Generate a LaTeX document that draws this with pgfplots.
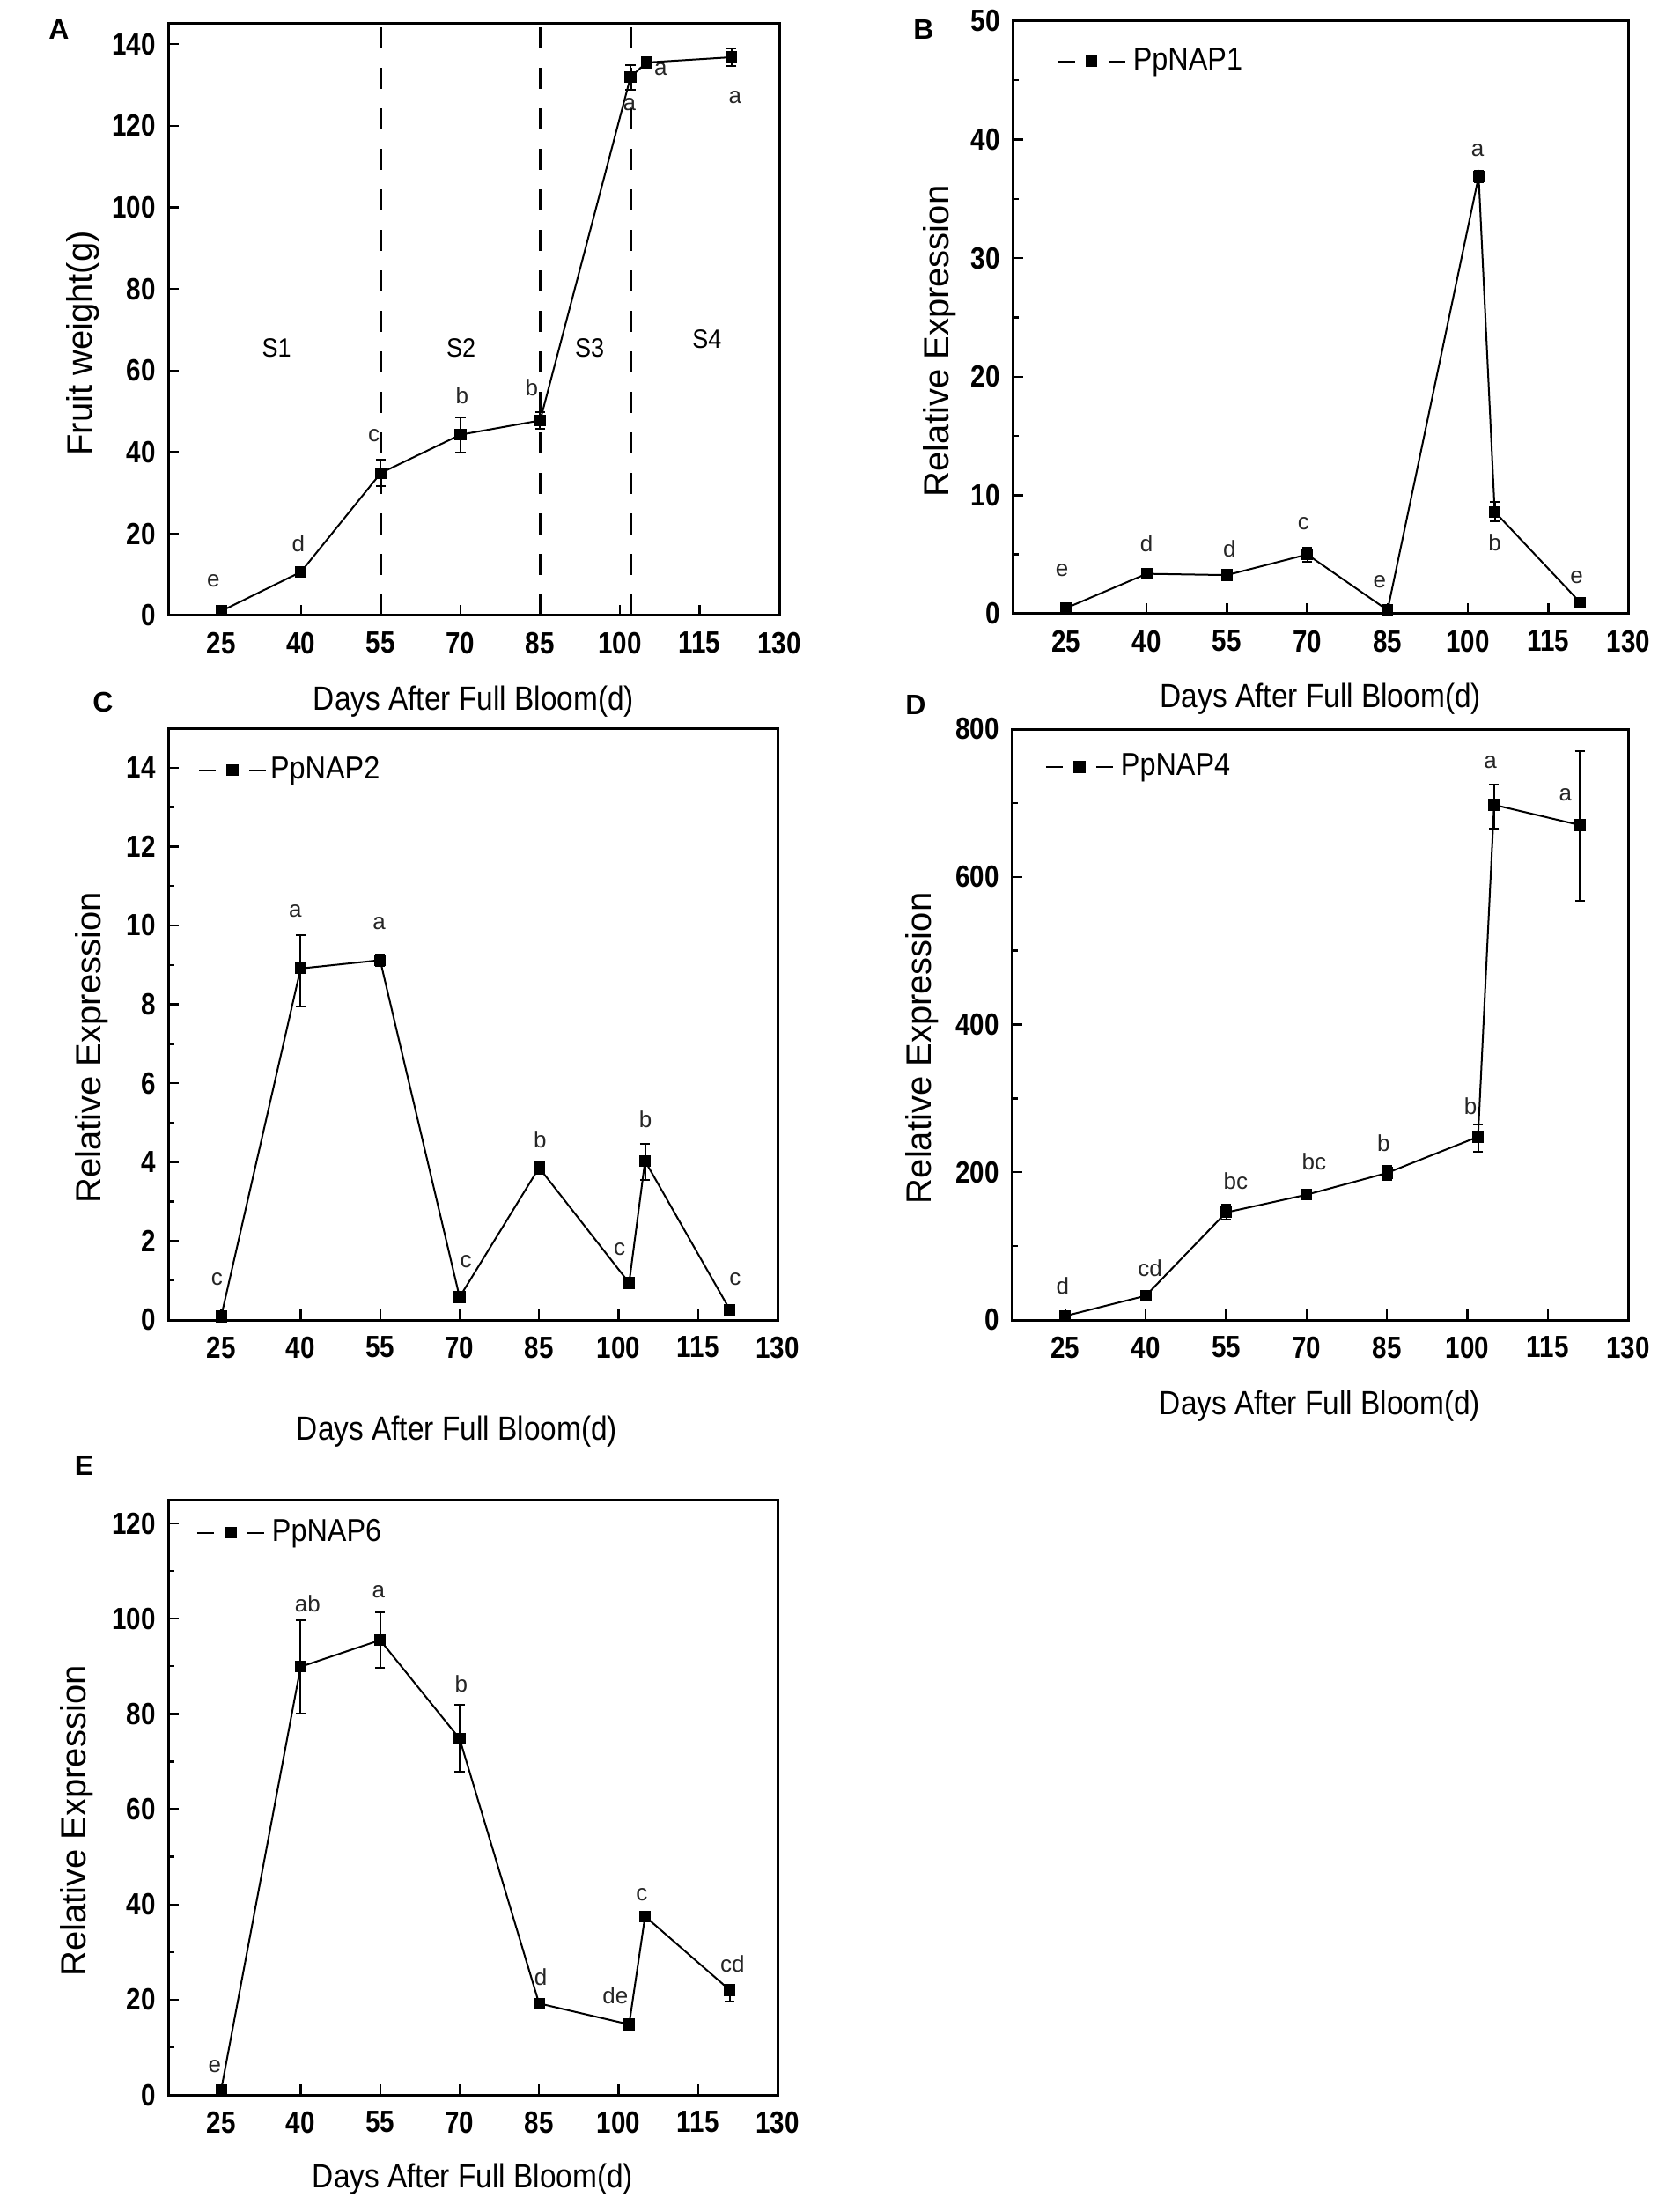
\documentclass[border=0pt]{standalone}
\usepackage{fontspec}
\setmainfont{Liberation Sans}
\usepackage{pgfplots}
\pgfplotsset{compat=1.18}

\newcommand{\tl}[1]{\scalebox{0.85}[1]{\bfseries #1}}
\newcommand{\xl}{\scalebox{0.88}[1]{Days After Full Bloom(d)}}

\tikzset{
  sig/.style={font=\fontsize{6.5}{7}\selectfont, text=black!85, inner sep=0pt},
  stg/.style={font=\fontsize{7.5}{8}\selectfont, inner sep=0pt},
}
\pgfplotsset{
  panel/.style={
    scale only axis, anchor=north west,
    xmin=15, xmax=130, ymin=0,
    xtick={25,40,55,70,85,100,115,130},
    tick align=inside, xtick pos=bottom, ytick pos=left,
    major tick length=3pt, minor tick length=1.8pt,
    axis line style={line width=0.75pt},
    every tick/.style={line width=0.6pt, black},
    /pgf/number format/assume math mode=true,
    xticklabel={\tl{\pgfmathprintnumber{\tick}}},
    yticklabel={\tl{\pgfmathprintnumber{\tick}}},
    tick label style={font=\fontsize{8.7}{10}\selectfont},
    x tick label style={yshift=-1.2pt},
    xlabel={\xl},
    xlabel style={font=\fontsize{9.5}{11}\selectfont, at={(axis description cs:0.5,-0.146)}, anchor=center},
    ylabel style={font=\fontsize{10}{12}\selectfont, anchor=center},
    legend style={draw=none, fill=none, font=\fontsize{9}{11}\selectfont, anchor=west, inner sep=0pt},
    legend cell align=left,
    legend image code/.code={
      \draw[#1, mark=none] (0pt,0pt) -- (4.75pt,0pt);
      \draw[#1, mark=none] (14.25pt,0pt) -- (19pt,0pt);
      \draw[#1, only marks] plot coordinates {(9.5pt,0pt)};
    },
  },
  ser/.style={black, line width=0.5pt, mark=square*, mark size=1.4pt, mark options={solid},
    error bars/.cd, y dir=both, y explicit,
    error bar style={line width=0.5pt, black},
    error mark options={rotate=90, line width=0.5pt, mark size=1.4pt, black}},
}

\begin{document}
\begin{tikzpicture}
\path[use as bounding box] (0,0) rectangle (474.75pt,-628pt);

% ---------------- A ----------------
\begin{axis}[panel, at={(47.75pt,-6.75pt)}, width=173.5pt, height=168pt,
  ymax=145, ytick={0,20,...,140},
  ylabel={Fruit weight(g)},
  ylabel style={at={(axis description cs:-0.139,0.46)}}]
\addplot[black, line width=0.75pt, dash pattern=on 6pt off 5.5pt] coordinates {(55,0) (55,145)};
\addplot[black, line width=0.75pt, dash pattern=on 6pt off 5.5pt] coordinates {(85,0) (85,145)};
\addplot[black, line width=0.75pt, dash pattern=on 6pt off 5.5pt] coordinates {(102,0) (102,145)};
\addplot[ser] coordinates {
 (25,1.1) +- (0,0.5)
 (40,10.7) +- (0,1.2)
 (55,34.9) +- (0,3.2)
 (70,44.3) +- (0,4.3)
 (85,47.8) +- (0,2)
 (102,131.9) +- (0,3)
 (105,135.5) +- (0,1.2)
 (121,136.8) +- (0,2.2)
};
\node[sig] at (axis cs:23.5,8.6) {e};
\node[sig] at (axis cs:39.5,17.7) {d};
\node[sig] at (axis cs:53.7,44.1) {c};
\node[sig] at (axis cs:70.3,53.8) {b};
\node[sig] at (axis cs:83.4,55.9) {b};
\node[sig] at (axis cs:101.8,125.3) {a};
\node[sig] at (axis cs:107.7,133.9) {a};
\node[sig] at (axis cs:121.7,126.9) {a};
\node[stg] at (axis cs:35.4,65.6) {\scalebox{0.9}[1]{S1}};
\node[stg] at (axis cs:70.1,65.6) {\scalebox{0.9}[1]{S2}};
\node[stg] at (axis cs:94.3,65.6) {\scalebox{0.9}[1]{S3}};
\node[stg] at (axis cs:116.4,67.7) {\scalebox{0.9}[1]{S4}};
\end{axis}

% ---------------- B ----------------
\begin{axis}[panel, at={(287.5pt,-6pt)}, width=174.9pt, height=168.25pt,
  ymax=50, ytick={0,10,...,50}, minor ytick={5,15,25,35,45},
  ylabel={Relative Expression},
  ylabel style={at={(axis description cs:-0.119,0.46)}},
  xlabel style={at={(axis description cs:0.5,-0.143)}},
  legend style={at={(axis description cs:0.0715,0.932)}}]
\addplot[ser] coordinates {
 (25,0.48) +- (0,0.1)
 (40,3.37) +- (0,0.3)
 (55,3.26) +- (0,0.2)
 (70,5.0) +- (0,0.6)
 (85,0.3) +- (0,0.1)
 (102,36.9) +- (0,0.5)
 (105,8.6) +- (0,0.8)
 (121,0.93) +- (0,0.2)
};
\addlegendentry{\scalebox{0.9}[1]{PpNAP1}}
\node[sig] at (axis cs:24.2,3.7) {e};
\node[sig] at (axis cs:40,5.9) {d};
\node[sig] at (axis cs:55.5,5.5) {d};
\node[sig] at (axis cs:69.3,7.6) {c};
\node[sig] at (axis cs:83.5,2.7) {e};
\node[sig] at (axis cs:101.8,39.1) {a};
\node[sig] at (axis cs:105,6.0) {b};
\node[sig] at (axis cs:120.3,3.1) {e};
\end{axis}

% ---------------- C ----------------
\begin{axis}[panel, at={(47.75pt,-206.75pt)}, width=173pt, height=168pt,
  ymax=15, ytick={0,2,...,14}, minor ytick={1,3,...,13},
  ylabel={Relative Expression},
  ylabel style={at={(axis description cs:-0.125,0.46)}},
  xlabel style={at={(axis description cs:0.474,-0.189)}},
  legend style={at={(axis description cs:0.048,0.929)}, nodes={inner xsep=1pt}}]
\addplot[ser] coordinates {
 (25,0.09) +- (0,0.03)
 (40,8.91) += (0,0.85) -= (0,0.96)
 (55,9.12) +- (0,0.15)
 (70,0.58) +- (0,0.05)
 (85,3.86) +- (0,0.15)
 (102,0.94) +- (0,0.08)
 (105,4.03) += (0,0.44) -= (0,0.49)
 (121,0.26) +- (0,0.04)
};
\addlegendentry{\scalebox{0.9}[1]{PpNAP2}}
\node[sig] at (axis cs:24.2,1.03) {c};
\node[sig] at (axis cs:39,10.37) {a};
\node[sig] at (axis cs:54.8,10.05) {a};
\node[sig] at (axis cs:71.2,1.48) {c};
\node[sig] at (axis cs:85.2,4.57) {b};
\node[sig] at (axis cs:100.2,1.80) {c};
\node[sig] at (axis cs:105.1,5.09) {b};
\node[sig] at (axis cs:122,1.03) {c};
\end{axis}

% ---------------- D ----------------
\begin{axis}[panel, at={(287.25pt,-207pt)}, width=175pt, height=167.75pt,
  ymax=800, ytick={0,200,...,800}, minor ytick={100,300,500,700},
  ylabel={Relative Expression},
  ylabel style={at={(axis description cs:-0.145,0.46)}},
  legend style={at={(axis description cs:0.053,0.936)}}]
\addplot[ser] coordinates {
 (25,5.5) +- (0,2)
 (40,32.8) +- (0,4)
 (55,145.6) +- (0,10)
 (70,169.6) +- (0,6)
 (85,199) +- (0,10)
 (102,248) += (0,17) -= (0,20)
 (105,697.4) += (0,27.4) -= (0,32.1)
 (121,670) += (0,100) -= (0,102.5)
};
\addlegendentry{\scalebox{0.9}[1]{PpNAP4}}
\node[sig] at (axis cs:24.5,46.5) {d};
\node[sig] at (axis cs:40.8,70.4) {cd};
\node[sig] at (axis cs:56.8,188) {bc};
\node[sig] at (axis cs:71.4,214) {bc};
\node[sig] at (axis cs:84.4,239) {b};
\node[sig] at (axis cs:100.6,289) {b};
\node[sig] at (axis cs:104.3,755.6) {a};
\node[sig] at (axis cs:118.3,711) {a};
\end{axis}

% ---------------- E ----------------
\begin{axis}[panel, at={(47.75pt,-425.75pt)}, width=173pt, height=169pt,
  ymax=125, ytick={0,20,...,120}, minor ytick={10,30,...,110},
  ylabel={Relative Expression},
  ylabel style={at={(axis description cs:-0.150,0.46)}},
  xlabel style={at={(axis description cs:0.5,-0.142)}},
  legend style={at={(axis description cs:0.045,0.944)}}]
\addplot[ser] coordinates {
 (25,1.06) +- (0,0.3)
 (40,89.9) += (0,9.8) -= (0,9.8)
 (55,95.5) += (0,5.8) -= (0,5.9)
 (70,74.8) += (0,7.1) -= (0,6.9)
 (85,19.2) +- (0,1)
 (102,14.8) +- (0,0.8)
 (105,37.5) +- (0,1)
 (121,22) += (0,1.2) -= (0,2.4)
};
\addlegendentry{\scalebox{0.9}[1]{PpNAP6}}
\node[sig] at (axis cs:23.8,6.0) {e};
\node[sig] at (axis cs:41.3,103.1) {ab};
\node[sig] at (axis cs:54.7,105.7) {a};
\node[sig] at (axis cs:70.3,86.4) {b};
\node[sig] at (axis cs:85.3,24.8) {d};
\node[sig] at (axis cs:99.4,20.8) {de};
\node[sig] at (axis cs:104.4,42) {c};
\node[sig] at (axis cs:121.5,27.5) {cd};
\end{axis}

% panel letters
\node[font=\bfseries\fontsize{8}{9}\selectfont] at (16.75pt,-8.5pt) {A};
\node[font=\bfseries\fontsize{8}{9}\selectfont] at (262.2pt,-8.5pt) {B};
\node[font=\bfseries\fontsize{8}{9}\selectfont] at (29.25pt,-199.4pt) {C};
\node[font=\bfseries\fontsize{8}{9}\selectfont] at (260pt,-200pt) {D};
\node[font=\bfseries\fontsize{8}{9}\selectfont] at (23.9pt,-416.2pt) {E};
\end{tikzpicture}
\end{document}
